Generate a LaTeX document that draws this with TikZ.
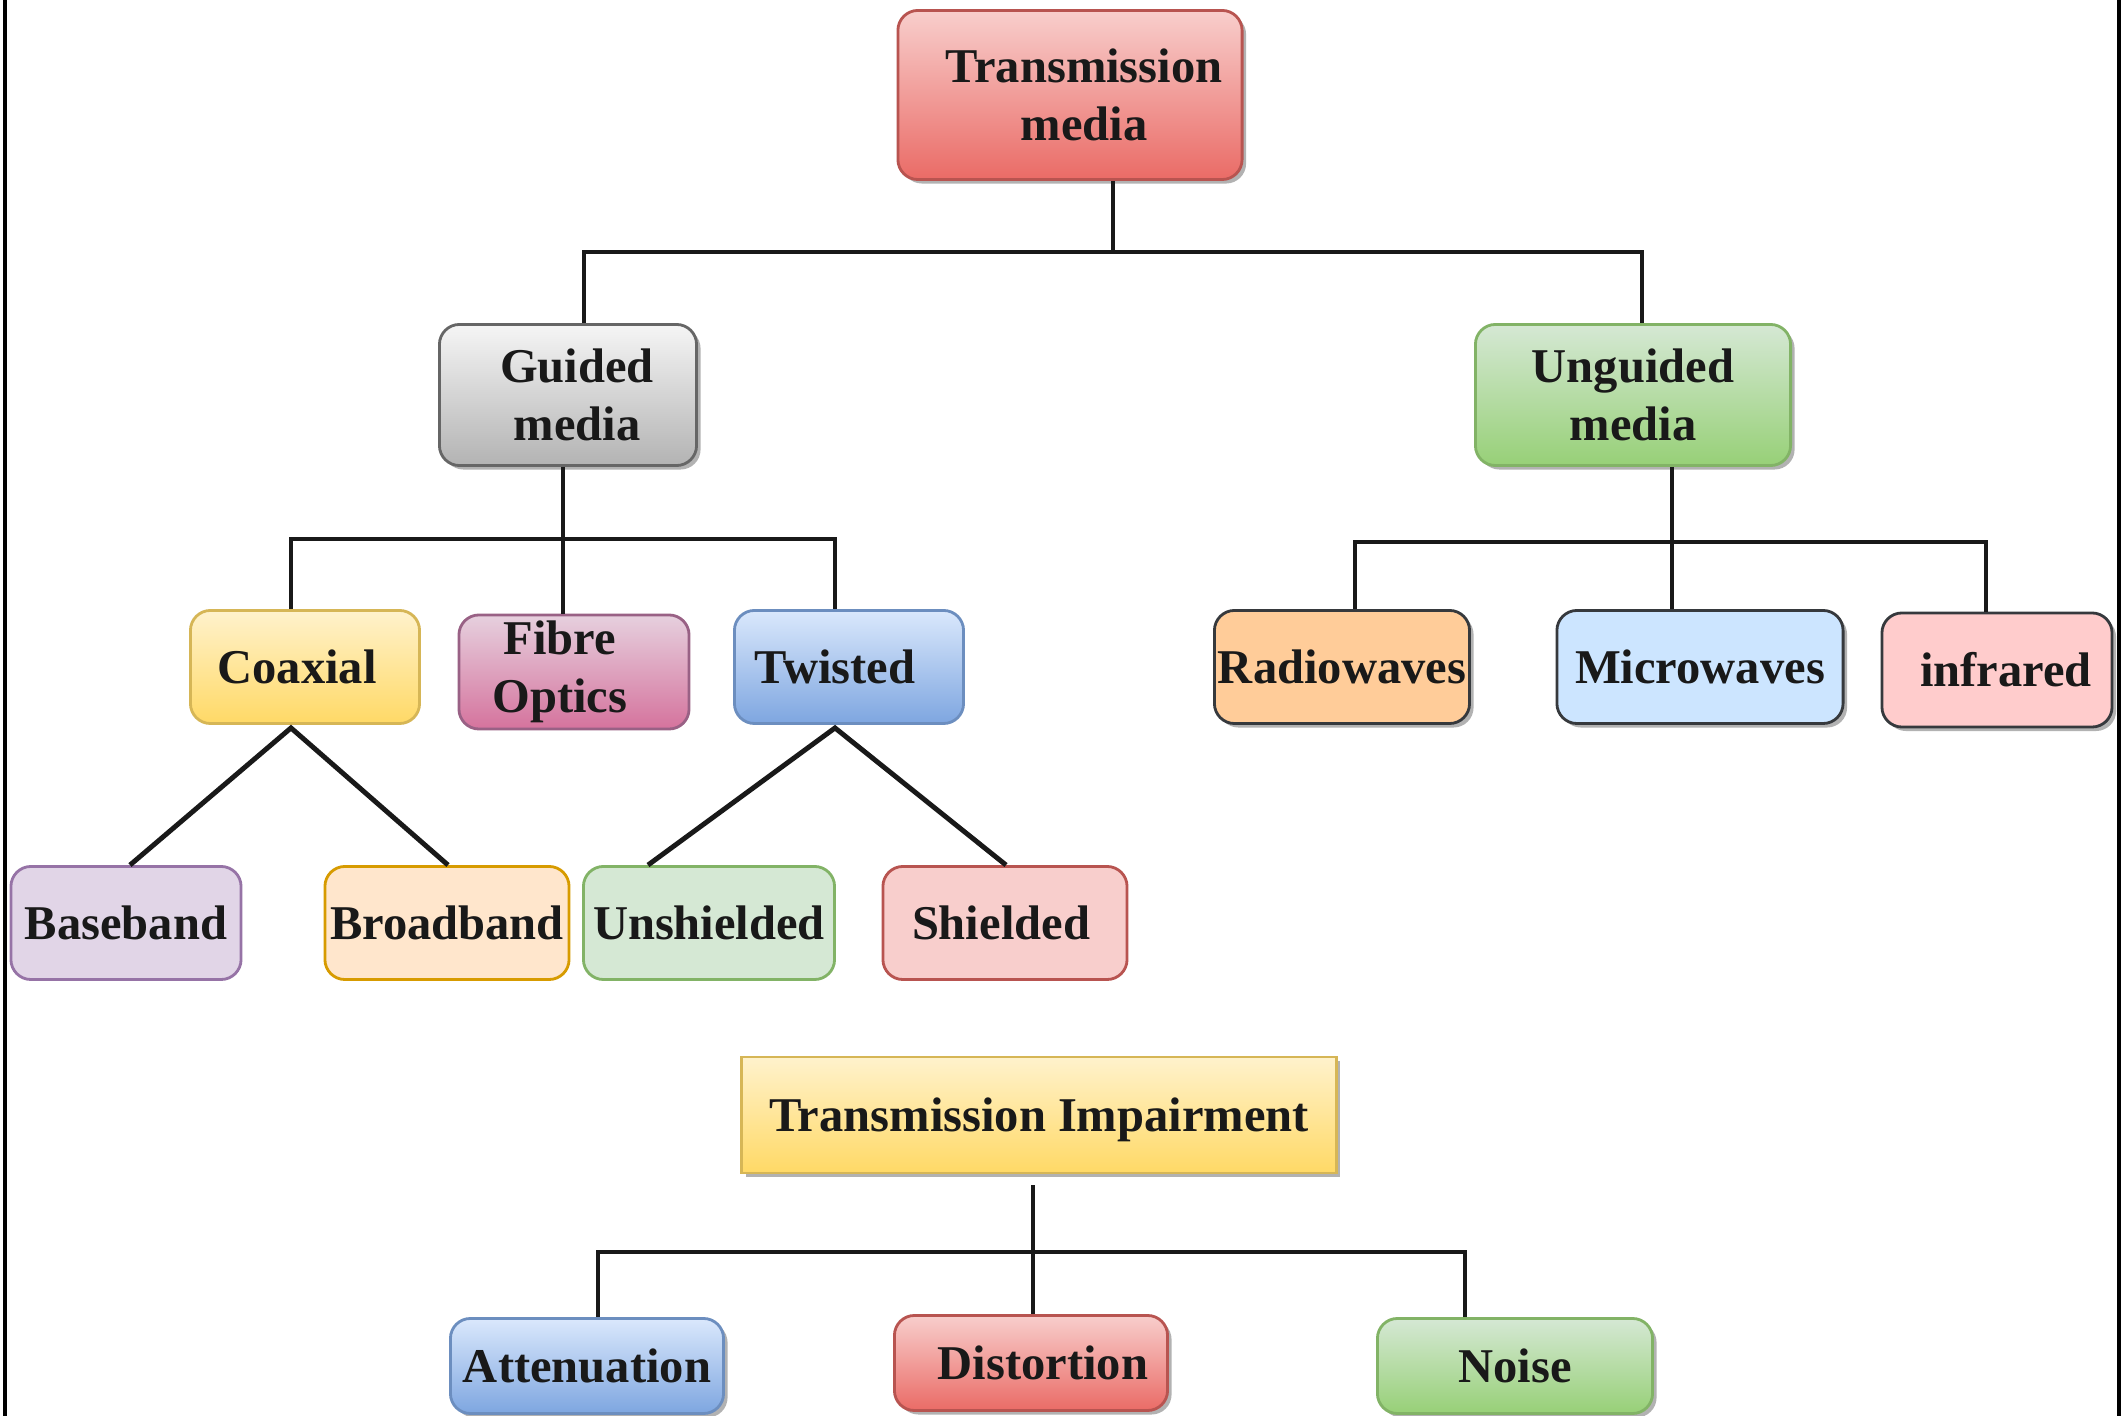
\documentclass[tikz,border=0pt]{standalone}
\usepackage{fontspec}
\setmainfont{Liberation Serif}
\usetikzlibrary{shadows,calc}

% palette
\definecolor{redTop}{HTML}{F8CECC}
\definecolor{redBot}{HTML}{EA6B66}
\definecolor{redLine}{HTML}{B85450}
\definecolor{grayTop}{HTML}{F5F5F5}
\definecolor{grayBot}{HTML}{B3B3B3}
\definecolor{grayLine}{HTML}{666666}
\definecolor{greenTop}{HTML}{D5E8D4}
\definecolor{greenBot}{HTML}{97D077}
\definecolor{greenLine}{HTML}{82B366}
\definecolor{yelTop}{HTML}{FFF2CC}
\definecolor{yelBot}{HTML}{FFD966}
\definecolor{yelLine}{HTML}{D6B656}
\definecolor{pinkTop}{HTML}{E6D0DE}
\definecolor{pinkBot}{HTML}{D5739D}
\definecolor{pinkLine}{HTML}{996185}
\definecolor{blueTop}{HTML}{DAE8FC}
\definecolor{blueBot}{HTML}{7EA6E0}
\definecolor{blueLine}{HTML}{6C8EBF}
\definecolor{darkLine}{HTML}{36393D}
\definecolor{orangeFill}{HTML}{FFCC99}
\definecolor{skyFill}{HTML}{CCE5FF}
\definecolor{roseFill}{HTML}{FFCCCC}
\definecolor{lilacFill}{HTML}{E1D5E7}
\definecolor{lilacLine}{HTML}{9673A6}
\definecolor{peachFill}{HTML}{FFE6CC}
\definecolor{peachLine}{HTML}{D79B00}

% horizontal nudges of a label line inside its box
\newcommand\padl[1]{\hspace*{#1}}
\newcommand\padr[1]{\hspace*{#1}}

\begin{document}
\begin{tikzpicture}[x=0.01cm,y=-0.01cm,
  box/.style={rounded corners=0.2cm, line width=0.8pt, align=center,
    inner sep=0pt, anchor=center, text=black!90,
    font=\fontsize{13.8}{16.5}\selectfont\bfseries},
  grad/.style n args={3}{top color=#1, bottom color=#2, draw=#3},
  flat/.style 2 args={fill=#1, draw=#2},
  shadowed/.style={drop shadow={shadow xshift=0.04cm, shadow yshift=-0.04cm,
    fill=black, opacity=0.3}},
  wire/.style={line width=1.4pt, black!90}]

\useasboundingbox (0,0) rectangle (2123,1416);
\fill[white] (0,0) rectangle (2123,1416);

% side rules of the frame
\draw[line width=0.9pt] (5,0) -- (5,1416);
\draw[line width=0.9pt] (2119,0) -- (2119,1416);

% ---- root and first level ----
\node[box, grad={redTop}{redBot}{redLine}, shadowed,
  minimum width=3.44cm, minimum height=1.69cm] (tm) at (1070,95)
  {\padl{0.28cm}Transmission\\\padl{0.28cm}media};
\node[box, grad={grayTop}{grayBot}{grayLine}, shadowed,
  minimum width=2.57cm, minimum height=1.41cm] (gm) at (568,395)
  {\padl{0.18cm}Guided\\\padl{0.18cm}media};
\node[box, grad={greenTop}{greenBot}{greenLine}, shadowed,
  minimum width=3.15cm, minimum height=1.41cm] (um) at (1633,395) {Unguided\\media};

% ---- guided media ----
\node[box, grad={yelTop}{yelBot}{yelLine},
  minimum width=2.29cm, minimum height=1.13cm] (coax) at (305,667) {Coaxial\padr{0.16cm}};
\node[box, grad={pinkTop}{pinkBot}{pinkLine},
  minimum width=2.30cm, minimum height=1.14cm] (fo) at (574,672)
  {Fibre\padr{0.28cm}\\Optics\padr{0.28cm}};
\node[box, grad={blueTop}{blueBot}{blueLine},
  minimum width=2.29cm, minimum height=1.13cm] (tw) at (849,667) {Twisted\padr{0.28cm}};

% ---- unguided media ----
\node[box, flat={orangeFill}{darkLine}, shadowed,
  minimum width=2.55cm, minimum height=1.13cm] (rw) at (1342,667) {Radiowaves};
\node[box, flat={skyFill}{darkLine}, shadowed,
  minimum width=2.86cm, minimum height=1.13cm] (mw) at (1700,667) {Microwaves};
\node[box, flat={roseFill}{darkLine}, shadowed,
  minimum width=2.30cm, minimum height=1.14cm] (ir) at (1997,670) {\padl{0.18cm}infrared};

% ---- cable kinds ----
\node[box, flat={lilacFill}{lilacLine},
  minimum width=2.30cm, minimum height=1.13cm] (bb) at (126,923) {Baseband};
\node[box, flat={peachFill}{peachLine},
  minimum width=2.44cm, minimum height=1.13cm] (br) at (447,923) {Broadband};
\node[box, flat={greenTop}{greenLine},
  minimum width=2.51cm, minimum height=1.13cm] (us) at (709,923) {Unshielded};
\node[box, flat={redTop}{redLine},
  minimum width=2.44cm, minimum height=1.13cm] (sh) at (1005,923) {Shielded\padr{0.08cm}};

% ---- impairments ----
\node[box, rounded corners=0pt, grad={yelTop}{yelBot}{yelLine}, shadowed,
  text depth=0pt,
  minimum width=5.94cm, minimum height=1.16cm] (ti) at (1039,1115) {Transmission Impairment};
\node[box, grad={blueTop}{blueBot}{blueLine}, shadowed,
  minimum width=2.73cm, minimum height=0.95cm] (at) at (587,1366) {Attenuation};
\node[box, grad={redTop}{redBot}{redLine}, shadowed,
  minimum width=2.73cm, minimum height=0.95cm] (di) at (1031,1363) {\padl{0.24cm}Distortion};
\node[box, grad={greenTop}{greenBot}{greenLine}, shadowed,
  minimum width=2.75cm, minimum height=0.95cm] (no) at (1515,1366) {Noise};

% ---- bus junctions ----
\coordinate (b1l) at (584,252);  \coordinate (b1m) at (1113,252); \coordinate (b1r) at (1642,252);
\coordinate (b2l) at (291,539);  \coordinate (b2m) at (563,539);  \coordinate (b2r) at (835,539);
\coordinate (b3l) at (1355,542); \coordinate (b3m) at (1672,542); \coordinate (b3r) at (1986,542);
\coordinate (b4l) at (598,1252); \coordinate (b4m) at (1033,1252); \coordinate (b4r) at (1465,1252);

% root to first level
\draw[wire] (tm.south -| b1m) -- (b1m);
\draw[wire] (gm.north -| b1l) -- (b1l) -- (b1r) -- (um.north -| b1r);

% guided media branches
\draw[wire] (gm.south -| b2m) -- (fo.north -| b2m);
\draw[wire] (coax.north -| b2l) -- (b2l) -- (b2r) -- (tw.north -| b2r);

% unguided media branches
\draw[wire] (um.south -| b3m) -- (mw.north -| b3m);
\draw[wire] (rw.north -| b3l) -- (b3l) -- (b3r) -- (ir.north -| b3r);

% coaxial and twisted pair splits
\draw[wire] ($(bb.north)+(4,0)$) -- ($(coax.south -| b2l)+(0,3)$) -- ($(br.north)+(1,0)$);
\draw[wire] ($(us.north)+(-61,0)$) -- ($(tw.south -| b2r)+(0,3)$) -- ($(sh.north)+(1,0)$);

% impairment branches
\draw[wire] ($(ti.south -| b4m)+(0,11)$) -- (di.north -| b4m);
\draw[wire] (at.north -| b4l) -- (b4l) -- (b4r) -- (no.north -| b4r);

\end{tikzpicture}
\end{document}
